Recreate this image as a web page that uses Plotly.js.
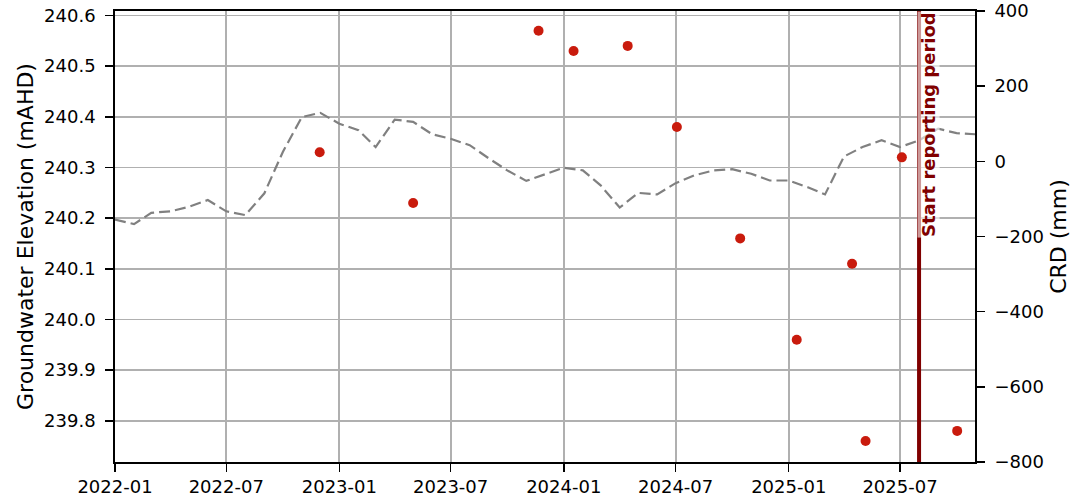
<!DOCTYPE html>
<html>
<head>
<meta charset="utf-8">
<script src="https://cdn.plot.ly/plotly-3.0.1.min.js"></script>
<style>html,body{margin:0;padding:0;background:#fff;}#chart{width:1076px;height:502px;}</style>
</head>
<body>
<div id="chart"></div>
<script>
// Groundwater elevation observations (left axis, mAHD)
const gwDates = ["2022-11-30","2023-05-01","2023-11-21","2024-01-17","2024-04-14","2024-07-03",
                 "2024-10-14","2025-01-14","2025-04-14","2025-05-06","2025-07-04","2025-10-02"];
const gwValues = [240.33, 240.23, 240.57, 240.53, 240.54, 240.38,
                  240.16, 239.96, 240.11, 239.76, 240.32, 239.78];

// Cumulative rainfall deviation (right axis, mm), monthly
const crdDates = ["2022-01-01","2022-02-01","2022-03-01","2022-04-01","2022-05-01","2022-06-01",
                  "2022-07-01","2022-08-01","2022-09-01","2022-10-01","2022-11-01","2022-12-01",
                  "2023-01-01","2023-02-01","2023-03-01","2023-04-01","2023-05-01","2023-06-01",
                  "2023-07-01","2023-08-01","2023-09-01","2023-10-01","2023-11-01","2023-12-01",
                  "2024-01-01","2024-02-01","2024-03-01","2024-04-01","2024-05-01","2024-06-01",
                  "2024-07-01","2024-08-01","2024-09-01","2024-10-01","2024-11-01","2024-12-01",
                  "2025-01-01","2025-02-01","2025-03-01","2025-04-01","2025-05-01","2025-06-01",
                  "2025-07-01","2025-08-01","2025-09-01","2025-10-01","2025-11-01"];
const crdValues = [-155, -167, -137, -133, -121, -103,
                   -133, -143, -85, 25, 118, 129,
                   100, 83, 38, 111, 105, 72,
                   60, 43, 8, -24, -52, -34,
                   -17, -24, -64, -123, -84, -88,
                   -58, -37, -24, -21, -33, -51,
                   -51, -69, -88, 13, 38, 56,
                   38, 56, 87, 75, 72];

const reportStart = "2025-08-01";
const reportLabel = "Start reporting period";
const xRange = ["2022-01-01", "2025-10-31"];
const leftRange = [239.7186, 240.6089];
const rightRange = [-800, 400];
const leftTitle = "Groundwater Elevation (mAHD)";
const rightTitle = "CRD (mm)";

const font = "DejaVu Sans, Liberation Sans, sans-serif";

const traces = [
  {
    x: gwDates, y: gwValues, type: "scatter", mode: "markers",
    marker: {color: "#c91b0d", size: 10},
    yaxis: "y", showlegend: false, hoverinfo: "x+y"
  },
  {
    x: crdDates, y: crdValues, type: "scatter", mode: "lines",
    line: {color: "#808080", width: 2.2, dash: "11px,5px"},
    yaxis: "y2", showlegend: false, hoverinfo: "x+y"
  }
];

const layout = {
  width: 1076, height: 502,
  margin: {l: 115, r: 101, t: 11, b: 40, pad: 0},
  paper_bgcolor: "#ffffff", plot_bgcolor: "#ffffff",
  font: {family: font, size: 18, color: "#000"},
  showlegend: false,
  xaxis: {
    type: "date", range: xRange,
    tick0: "2022-01-01", dtick: "M6", tickformat: "%Y-%m",
    ticks: "outside", ticklen: 8, tickwidth: 1.5, tickcolor: "#000",
    showline: true, linecolor: "#000", linewidth: 1.8, mirror: true,
    showgrid: true, gridcolor: "#b0b0b0", gridwidth: 1.8,
    zeroline: false,
    tickfont: {family: font, size: 18, color: "#000"}
  },
  yaxis: {
    range: leftRange, dtick: 0.1, tick0: 239.8, tickformat: ".1f",
    ticks: "outside", ticklen: 8, tickwidth: 1.5, tickcolor: "#000",
    showline: true, linecolor: "#000", linewidth: 1.8,
    showgrid: true, gridcolor: "#b0b0b0", gridwidth: 1.8,
    zeroline: false, ticklabelstandoff: 6,
    tickfont: {family: font, size: 18, color: "#000"},
    title: {text: leftTitle, font: {family: font, size: 22, color: "#000"}, standoff: 4}
  },
  yaxis2: {
    range: rightRange, dtick: 200, tick0: -800,
    overlaying: "y", side: "right",
    ticks: "outside", ticklen: 8, tickwidth: 1.5, tickcolor: "#000",
    showline: true, linecolor: "#000", linewidth: 1.8,
    showgrid: false, zeroline: false, ticklabelstandoff: 6,
    tickfont: {family: font, size: 18, color: "#000"},
    title: {text: rightTitle, font: {family: font, size: 22, color: "#000"}, standoff: 8}
  },
  shapes: [
    {type: "line", xref: "x", yref: "paper", x0: reportStart, x1: reportStart, y0: 0, y1: 1,
     line: {color: "#800000", width: 4}, layer: "above"}
  ],
  annotations: [
    {x: reportStart, xref: "x", y: 1, yref: "paper", xanchor: "left", yanchor: "top",
     text: "<b>" + reportLabel + "</b>", textangle: -90, showarrow: false,
     font: {family: font, size: 18, color: "#800000"},
     bgcolor: "rgba(255,255,255,0.6)", borderpad: 0, xshift: -2}
  ]
};

Plotly.newPlot("chart", traces, layout, {staticPlot: true, displayModeBar: false});
</script>
</body>
</html>
